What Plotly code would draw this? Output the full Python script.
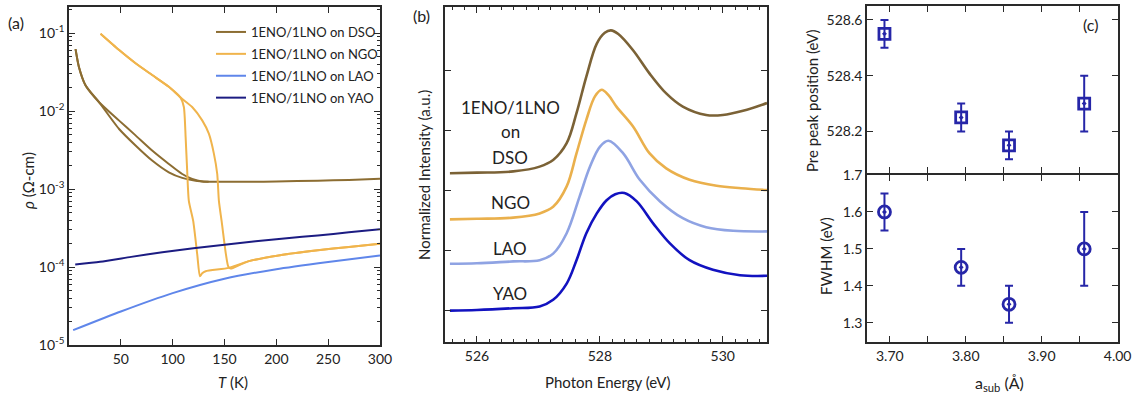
import plotly.graph_objects as go

# ---------------- Panel (a): resistivity vs T ----------------
dso_T_up = [6.3, 9.5, 15.9, 28.8, 48.1, 64.2, 80.2, 96.3, 109.2, 118.8, 128.5, 150, 175, 200, 240, 270, 300]
dso_rho_up = [0.0622, 0.0371, 0.0215, 0.0131, 0.0076, 0.00488, 0.00312, 0.00210, 0.00156, 0.00135,
              0.00125, 0.00124, 0.00124, 0.00125, 0.00128, 0.00131, 0.00136]
dso_T_dn = [6.3, 9.5, 15.9, 28.8, 48.1, 64.2, 80.2, 96.3, 109.2, 122.1, 134.7]
dso_rho_dn = [0.0622, 0.0371, 0.0215, 0.0131, 0.00594, 0.00362, 0.00232, 0.00164, 0.00139, 0.00128, 0.00124]

ngo_T_a = [30.4, 48.1, 64.2, 80.2, 96.3, 107.6, 110.8, 112.5, 114, 115.6, 119.8, 123.7, 126.3, 128.5,
           131.8, 154.2, 173.6, 203.5, 240, 270, 300]
ngo_rho_a = [0.098, 0.0610, 0.0410, 0.0290, 0.0205, 0.0149, 0.0113, 0.00463, 0.00172, 0.000706, 0.000390,
             0.000145, 7.59e-5, 8.32e-5, 8.83e-5, 9.75e-5, 1.19e-4, 1.42e-4, 1.64e-4, 1.81e-4, 1.99e-4]
ngo_T_b = [30.4, 48.1, 64.2, 80.2, 96.3, 107.6, 118.8, 128.5, 134.9, 139.8, 143, 144.6, 147.2, 151.4,
           153.6, 155.9, 165, 173.6, 203.5, 240, 270, 300]
ngo_rho_b = [0.098, 0.0610, 0.0410, 0.0290, 0.0205, 0.0149, 0.0113, 0.0076, 0.00513, 0.00283, 0.00156,
             0.000706, 0.000390, 0.000145, 0.000102, 9.55e-5, 1.07e-4, 1.19e-4, 1.42e-4, 1.64e-4, 1.81e-4, 1.99e-4]

lao_T = [4, 50, 100, 150, 200, 250, 300]
lao_rho = [1.55e-5, 2.69e-5, 4.63e-5, 7.08e-5, 9.38e-5, 1.16e-4, 1.41e-4]

yao_T = [6, 30, 60, 90, 120, 150, 180, 210, 240, 270, 300]
yao_rho = [1.08e-4, 1.17e-4, 1.35e-4, 1.55e-4, 1.74e-4, 1.93e-4, 2.14e-4, 2.34e-4, 2.54e-4, 2.79e-4, 3.05e-4]

legend_names = ["1ENO/1LNO on DSO", "1ENO/1LNO on NGO", "1ENO/1LNO on LAO", "1ENO/1LNO on YAO"]
a_colors = ["#8c6d32", "#f0b44c", "#5f86ea", "#1c1c82"]

# ---------------- Panel (b): XAS spectra ----------------
dso_E = [525.56, 526.0, 526.59, 527.02, 527.24, 527.46, 527.62, 527.78, 527.95, 528.08, 528.18, 528.3,
         528.54, 528.81, 529.08, 529.35, 529.73, 530.0, 530.33, 530.72]
dso_I = [2.28, 2.29, 2.31, 2.39, 2.5, 2.78, 3.28, 3.89, 4.44, 4.62, 4.66, 4.6, 4.33, 3.94, 3.61, 3.39,
         3.25, 3.25, 3.32, 3.45]
ngo_E = [525.56, 526.0, 526.59, 527.02, 527.24, 527.46, 527.62, 527.78, 527.92, 528.03, 528.14, 528.27,
         528.54, 528.81, 529.08, 529.46, 529.9, 530.3, 530.72]
ngo_I = [1.51, 1.52, 1.54, 1.61, 1.72, 2.06, 2.61, 3.17, 3.56, 3.67, 3.58, 3.39, 3.06, 2.61, 2.36, 2.17,
         2.07, 2.03, 2.0]
lao_E = [525.56, 526.0, 526.59, 527.02, 527.24, 527.46, 527.67, 527.84, 528.0, 528.14, 528.38, 528.65,
         528.98, 529.35, 529.73, 530.17, 530.72]
lao_I = [0.77, 0.78, 0.81, 0.83, 0.94, 1.28, 1.89, 2.39, 2.72, 2.82, 2.61, 2.17, 1.81, 1.53, 1.38, 1.32, 1.31]
yao_E = [525.56, 526.0, 526.59, 527.02, 527.24, 527.46, 527.62, 527.78, 527.95, 528.11, 528.25, 528.4,
         528.6, 528.87, 529.14, 529.46, 529.84, 530.28, 530.72]
yao_I = [-0.01, 0.0, 0.03, 0.06, 0.17, 0.44, 0.83, 1.28, 1.61, 1.83, 1.93, 1.95, 1.81, 1.44, 1.11, 0.83,
         0.67, 0.58, 0.57]
b_colors = ["#7b6236", "#eab04c", "#8fa3e3", "#1212c0"]
b_labels = ["DSO", "NGO", "LAO", "YAO"]
b_label_E = [526.54, 526.54, 526.54, 526.54]
b_label_I = [2.55, 1.80, 1.03, 0.28]

# ---------------- Panel (c): peak position and FWHM ----------------
a_sub = [3.693, 3.794, 3.857, 3.956]
peak_pos = [528.55, 528.25, 528.15, 528.30]
peak_err = [0.05, 0.05, 0.05, 0.10]
fwhm = [1.60, 1.45, 1.35, 1.50]
fwhm_err = [0.05, 0.05, 0.05, 0.10]
c_color = "#2626a8"

FONT = "Lato"
W, H = 1141, 398
fig = go.Figure()

# panel (a) traces
a_sets = [
    [(dso_T_up, dso_rho_up), (dso_T_dn, dso_rho_dn)],
    [(ngo_T_a, ngo_rho_a), (ngo_T_b, ngo_rho_b)],
    [(lao_T, lao_rho)],
    [(yao_T, yao_rho)],
]
for name, col, branches in zip(legend_names, a_colors, a_sets):
    for k, (tx, ry) in enumerate(branches):
        fig.add_trace(go.Scatter(x=tx, y=ry, mode="lines", name=name, legendgroup=name,
                                 showlegend=(k == 0), line=dict(color=col, width=2, shape="spline", smoothing=0.6),
                                 xaxis="x", yaxis="y"))

# panel (b) traces
for e, i, col in zip([dso_E, ngo_E, lao_E, yao_E], [dso_I, ngo_I, lao_I, yao_I], b_colors):
    fig.add_trace(go.Scatter(x=e, y=i, mode="lines", showlegend=False,
                             line=dict(color=col, width=2.6, shape="spline", smoothing=1.0),
                             xaxis="x2", yaxis="y2"))

# panel (c) traces
fig.add_trace(go.Scatter(x=a_sub, y=peak_pos, mode="markers", showlegend=False,
                         marker=dict(symbol="square-open-dot", size=11, color=c_color, line=dict(width=2.8, color=c_color)),
                         error_y=dict(type="data", array=peak_err, color=c_color, thickness=2, width=4),
                         xaxis="x3", yaxis="y3"))
fig.add_trace(go.Scatter(x=a_sub, y=fwhm, mode="markers", showlegend=False,
                         marker=dict(symbol="circle-open-dot", size=12, color=c_color, line=dict(width=2.8, color=c_color)),
                         error_y=dict(type="data", array=fwhm_err, color=c_color, thickness=2, width=4),
                         xaxis="x4", yaxis="y4"))

def px_x(p):
    return p / W

def px_y(p):
    return 1 - p / H

LW = 1.6
axis_common = dict(showline=True, linecolor="#2a2a2a", linewidth=LW, mirror="allticks", ticks="inside",
                   tickcolor="#2a2a2a", tickwidth=1.4, ticklen=6, showgrid=False, zeroline=False,
                   automargin=False, tickfont=dict(family=FONT, size=14, color="#222"))
minor_common = dict(ticks="inside", ticklen=3, tickcolor="#2a2a2a", tickwidth=1.2, showgrid=False)

log_major = [1e-5, 1e-4, 1e-3, 1e-2, 1e-1]
log_minor = [m * 10 ** e for e in range(-5, 0) for m in range(2, 10)]

c_split = 174

fig.update_layout(
    template="none",
    width=W, height=H, margin=dict(l=0, r=0, t=0, b=0, autoexpand=False),
    paper_bgcolor="white", plot_bgcolor="white",
    font=dict(family=FONT, size=14, color="#222"),
    xaxis=dict(axis_common, domain=[px_x(69), px_x(380)], range=[0, 300], tickvals=[50, 100, 150, 200, 250, 300],
               anchor="y"),
    yaxis=dict(axis_common, domain=[px_y(345), px_y(7)], type="log", range=[-5, -0.665],
               tickvals=log_major, ticktext=["10<sup>-5</sup>", "10<sup>-4</sup>", "10<sup>-3</sup>",
                                             "10<sup>-2</sup>", "10<sup>-1</sup>"],
               minor=dict(minor_common, tickmode="array", tickvals=log_minor),
               anchor="x"),
    xaxis2=dict(axis_common, domain=[px_x(445), px_x(767)], range=[525.48, 530.72], tickvals=[526, 528, 530],
                minor=dict(minor_common, dtick=0.2, tick0=526),
                anchor="y2"),
    yaxis2=dict(axis_common, domain=[px_y(342), px_y(7)], range=[-0.533, 5.05], tickvals=[0, 1, 2, 3, 4],
                showticklabels=False, anchor="x2"),
    xaxis3=dict(axis_common, domain=[px_x(867), px_x(1118)], range=[3.67, 4.0005],
                tickvals=[3.70, 3.80, 3.90, 4.00], showticklabels=False,
                minor=dict(minor_common, tickmode="array", tickvals=[3.75, 3.85, 3.95], ticklen=6),
                anchor="y3"),
    yaxis3=dict(axis_common, domain=[px_y(c_split - LW / 2), px_y(6)], range=[528.05, 528.65],
                tickvals=[528.2, 528.4, 528.6], ticktext=["528.2", "528.4", "528.6"], anchor="x3"),
    xaxis4=dict(axis_common, domain=[px_x(867), px_x(1118)], range=[3.67, 4.0005],
                tickvals=[3.70, 3.80, 3.90, 4.00], ticktext=["3.70", "3.80", "3.90", "4.00"],
                minor=dict(minor_common, tickmode="array", tickvals=[3.75, 3.85, 3.95], ticklen=6),
                anchor="y4"),
    yaxis4=dict(axis_common, domain=[px_y(342), px_y(c_split + LW / 2)], range=[1.248, 1.7005],
                tickvals=[1.3, 1.4, 1.5, 1.6, 1.7], ticktext=["1.3", "1.4", "1.5", "1.6", "1.7"], anchor="x4"),
    legend=dict(x=px_x(211), y=px_y(17), xanchor="left", yanchor="top", bgcolor="rgba(0,0,0,0)",
                font=dict(family=FONT, size=13, color="#222"), traceorder="grouped", tracegroupgap=2,
                itemwidth=30, borderwidth=0),
)

ann = []
def add_text(text, x, y, size=15, angle=0, xref="paper", yref="paper", xanchor="center"):
    ann.append(dict(text=text, x=x, y=y, xref=xref, yref=yref, showarrow=False, textangle=angle,
                    xanchor=xanchor, yanchor="middle", font=dict(family=FONT, size=size, color="#222")))

# panel labels
add_text("(a)", px_x(16), px_y(22), size=16)
add_text("(b)", px_x(421), px_y(16), size=16)
add_text("(c)", px_x(1090), px_y(25), size=16)
# axis titles
add_text("<i>ρ</i> (Ω-cm)", px_x(28), px_y(181), size=15, angle=-90)
add_text("<i>T</i> (K)", px_x(233), px_y(382), size=15)
add_text("Normalized Intensity (a.u.)", px_x(424), px_y(175), size=15, angle=-90)
add_text("Photon Energy (eV)", px_x(607), px_y(382), size=15)
add_text("Pre peak position (eV)", px_x(812), px_y(101), size=15, angle=-90)
add_text("FWHM (eV)", px_x(826), px_y(256), size=15, angle=-90)
add_text("a<sub>sub</sub> (Å)", px_x(999), px_y(383), size=16)
# panel (b) sample labels
add_text("1ENO/1LNO", 526.54, 3.38, size=17, xref="x2", yref="y2")
add_text("on", 526.54, 2.97, size=17, xref="x2", yref="y2")
for lab, e, i in zip(b_labels, b_label_E, b_label_I):
    add_text(lab, e, i, size=17, xref="x2", yref="y2")

fig.update_layout(annotations=ann)
fig.write_html("out.html", config={"displayModeBar": False},
               post_script="document.body.style.margin='0';document.body.style.padding='0';document.body.style.overflow='hidden';")
